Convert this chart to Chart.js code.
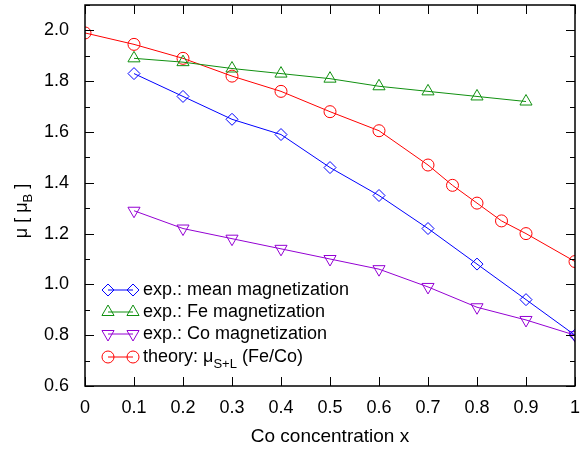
<!DOCTYPE html>
<html>
<head>
<meta charset="utf-8">
<script src="https://cdn.jsdelivr.net/npm/chart.js@4/dist/chart.umd.min.js"></script>
<style>
  html, body { margin: 0; padding: 0; background: #fff; overflow: hidden; }
  /* a little larger than the window: Chart.js keeps room for point overflow at top/right */
  #wrap { width: 583px; height: 453px; position: relative; top: -3px; }
</style>
</head>
<body>
<div id="wrap"><canvas id="grafico"></canvas></div>
<script>
// data
var xExp = [0.1, 0.2, 0.3, 0.4, 0.5, 0.6, 0.7, 0.8, 0.9, 1.0];
var meanMag = [1.83, 1.74, 1.65, 1.59, 1.46, 1.35, 1.22, 1.08, 0.94, 0.80];
var xFe = [0.1, 0.2, 0.3, 0.4, 0.5, 0.6, 0.7, 0.8, 0.9];
var feMag = [1.89, 1.875, 1.85, 1.83, 1.81, 1.78, 1.76, 1.74, 1.72];
var coMag = [1.29, 1.22, 1.18, 1.14, 1.10, 1.06, 0.99, 0.91, 0.86, 0.80];
var xTheory = [0, 0.1, 0.2, 0.3, 0.4, 0.5, 0.6, 0.7, 0.75, 0.8, 0.85, 0.9, 1.0];
var theory = [1.99, 1.945, 1.89, 1.82, 1.76, 1.68, 1.605, 1.47, 1.39, 1.32, 1.25, 1.20, 1.09];

var xTicks = [0, 0.1, 0.2, 0.3, 0.4, 0.5, 0.6, 0.7, 0.8, 0.9, 1];
var yTicks = [0.6, 0.8, 1.0, 1.2, 1.4, 1.6, 1.8, 2.0];
var yMinor = [0.7, 0.9, 1.1, 1.3, 1.5, 1.7, 1.9, 2.1];

var FONTE = '"Liberation Sans", Arial, sans-serif';
var DY = 3; // canvas is shifted up by this much

function pares(xs, ys) {
	return xs.map(function(x, i) { return { x: x, y: ys[i] }; });
}

function serie(rotulo, xs, ys, cor, estilo, raio, rot) {
	return {
		label: rotulo,
		data: pares(xs, ys),
		borderColor: cor,
		backgroundColor: 'rgba(0,0,0,0)',
		borderWidth: 1,
		pointStyle: estilo,
		pointRadius: raio,
		pointHoverRadius: raio,
		pointRotation: rot || 0,
		pointBorderColor: cor,
		pointBorderWidth: 1,
		pointBackgroundColor: 'rgba(0,0,0,0)',
		showLine: true,
		tension: 0
	};
}

var datasets = [
	serie('exp.: mean magnetization', xExp, meanMag, '#0000ff', 'rectRot', 6),
	serie('exp.: Fe magnetization', xFe, feMag, '#109010', 'triangle', 7),
	serie('exp.: Co magnetization', xExp, coMag, '#9400d3', 'triangle', 7, 180),
	serie('theory', xTheory, theory, '#ff0000', 'circle', 6)
];

// frame, inward ticks, legend and y title, gnuplot style
var moldura = {
	id: 'moldura',
	afterDraw: function(chart) {
		var ctx = chart.ctx, a = chart.chartArea;
		var sx = chart.scales.x, sy = chart.scales.y;
		ctx.save();
		ctx.strokeStyle = '#000';
		ctx.lineWidth = 1.5;
		ctx.strokeRect(a.left, a.top, a.right - a.left, a.bottom - a.top);
		ctx.lineWidth = 1;
		ctx.beginPath();
		xTicks.forEach(function(v) {
			var px = Math.round(sx.getPixelForValue(v)) + 0.5;
			ctx.moveTo(px, a.bottom); ctx.lineTo(px, a.bottom - 9);
			ctx.moveTo(px, a.top); ctx.lineTo(px, a.top + 9);
		});
		yTicks.forEach(function(v) {
			var py = Math.round(sy.getPixelForValue(v)) + 0.5;
			ctx.moveTo(a.left, py); ctx.lineTo(a.left + 9, py);
			ctx.moveTo(a.right, py); ctx.lineTo(a.right - 9, py);
		});
		yMinor.forEach(function(v) {
			var py = Math.round(sy.getPixelForValue(v)) + 0.5;
			ctx.moveTo(a.left, py); ctx.lineTo(a.left + 5, py);
			ctx.moveTo(a.right, py); ctx.lineTo(a.right - 5, py);
		});
		ctx.stroke();

		// legend
		var linhas = [290, 312, 334, 357];
		ctx.textBaseline = 'middle';
		ctx.textAlign = 'left';
		chart.data.datasets.forEach(function(ds, i) {
			var y = linhas[i] + DY;
			ctx.strokeStyle = ds.borderColor;
			ctx.fillStyle = 'rgba(0,0,0,0)';
			ctx.lineWidth = 1;
			ctx.beginPath();
			ctx.moveTo(108, y); ctx.lineTo(133, y);
			ctx.stroke();
			[108, 133].forEach(function(px) {
				Chart.helpers.drawPoint(ctx, {
					pointStyle: ds.pointStyle,
					rotation: ds.pointRotation,
					radius: ds.pointRadius,
					borderWidth: 1
				}, px, y);
			});
			ctx.fillStyle = '#000';
			ctx.font = '18px ' + FONTE;
			if (i < 3) {
				ctx.fillText(ds.label, 143, y);
			} else {
				var t1 = 'theory: \u03bc';
				ctx.fillText(t1, 143, y);
				var w1 = ctx.measureText(t1).width;
				ctx.font = '13px ' + FONTE;
				ctx.fillText('S+L', 143 + w1, y + 7);
				var w2 = ctx.measureText('S+L').width;
				ctx.font = '18px ' + FONTE;
				ctx.fillText(' (Fe/Co)', 143 + w1 + w2, y);
			}
		});

		// y axis title
		ctx.translate(22, 211 + DY);
		ctx.rotate(-Math.PI / 2);
		ctx.fillStyle = '#000';
		var p1 = '\u03bc [ \u03bc', p2 = 'B', p3 = ' ]';
		ctx.font = '18px ' + FONTE;
		var l1 = ctx.measureText(p1).width, l3 = ctx.measureText(p3).width;
		ctx.font = '13px ' + FONTE;
		var l2 = ctx.measureText(p2).width;
		var x0 = -(l1 + l2 + l3) / 2;
		ctx.font = '18px ' + FONTE;
		ctx.fillText(p1, x0, 0);
		ctx.font = '13px ' + FONTE;
		ctx.fillText(p2, x0 + l1, 6);
		ctx.font = '18px ' + FONTE;
		ctx.fillText(p3, x0 + l1 + l2, 0);
		ctx.restore();
	}
};

var grafico = new Chart(document.getElementById('grafico').getContext('2d'), {
	type: 'scatter',
	data: { datasets: datasets },
	plugins: [moldura],
	options: {
		responsive: true,
		maintainAspectRatio: false,
		animation: false,
		layout: { padding: 0 },
		plugins: {
			legend: { display: false },
			tooltip: { enabled: false }
		},
		scales: {
			x: {
				type: 'linear',
				min: 0, max: 1,
				afterBuildTicks: function(axis) {
					axis.ticks = xTicks.map(function(v) { return { value: v }; });
				},
				afterFit: function(axis) {
					axis.height = 64;
					axis.paddingLeft = 0;
					axis.paddingRight = 0;
				},
				grid: { display: false },
				border: { display: false },
				ticks: {
					color: '#000',
					padding: 3,
					maxRotation: 0,
					font: { family: FONTE, size: 18 },
					callback: function(v) { return v === 0 || v === 1 ? String(v) : v.toFixed(1); }
				},
				title: {
					display: true,
					text: 'Co concentration x',
					color: '#000',
					font: { family: FONTE, size: 19 },
					padding: { top: 12, bottom: 2 }
				}
			},
			y: {
				type: 'linear',
				min: 0.6, max: 2.1,
				afterBuildTicks: function(axis) {
					axis.ticks = yTicks.map(function(v) { return { value: v }; });
				},
				afterFit: function(axis) {
					axis.width = 85;
					axis.paddingTop = 0;
					axis.paddingBottom = 0;
				},
				grid: { display: false },
				border: { display: false },
				ticks: {
					color: '#000',
					padding: 8,
					font: { family: FONTE, size: 18 },
					callback: function(v) { return v.toFixed(1); }
				}
			}
		}
	}
});
</script>
</body>
</html>
